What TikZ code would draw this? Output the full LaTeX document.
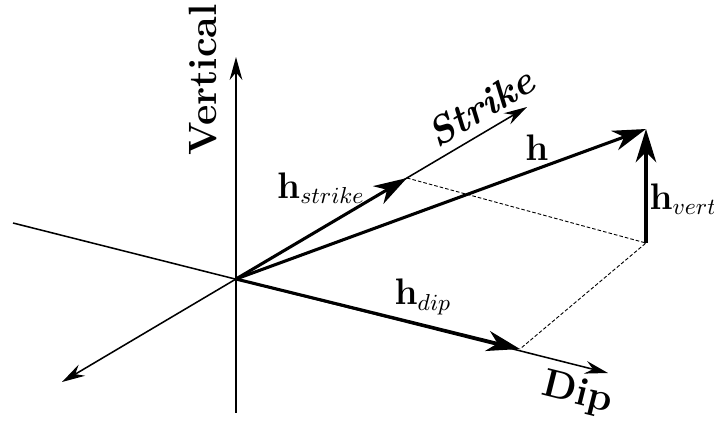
\documentclass[tikz,border=0pt]{standalone}
\usetikzlibrary{arrows.meta}
\DeclareMathSizes{14.4}{14.4}{9}{7}
\begin{document}
\begin{tikzpicture}[scale = 0.137,
		axis/.style = {line width = 0.6pt, -{Stealth[length=9pt, width=5pt, inset=3pt]}},
		vec/.style = {line width = 1.2pt, -{Stealth[length=13pt, width=8pt, inset=4pt]}},
		helper/.style = {line width = 0.35pt, dash pattern = on 1.4pt off 0.8pt},
		lbl/.style = {font = \fontsize{15.4}{18}\selectfont},
		mlbl/.style = {font = \Large}]
			\useasboundingbox (-23.6,-14.2) rectangle (47.8,27.9);
			
			\coordinate (o) at (0,0);
			\coordinate (vtop) at (0,22.2);
			\coordinate (vbot) at (0,-13.4);
			\coordinate (dback) at (-22.3,5.6);
			\coordinate (dtip) at (37.2,-9.4);
			\coordinate (sback) at (-17.4,-10.3);
			\coordinate (stip) at (29.1,17.2);
			
			\coordinate (hs) at (17.1,10.1);
			\coordinate (hd) at (28.4,-7.0);
			\coordinate (hv) at (41.0,3.6);
			\coordinate (ht) at (41.0,15.0);
			
			% axes
			\draw [axis] (vbot) -- (vtop);
			\draw [axis] (dback) -- (dtip);
			\draw [axis] (o) -- (sback);
			\draw [axis] (o) -- (stip);
			
			% components
			\draw [helper] (hs) -- (hv) -- (hd);
			\draw [vec] (o) -- (hs);
			\draw [vec] (o) -- (hd);
			\draw [vec] (hv) -- (ht);
			\draw [vec] (o) -- (ht);
			
			\node[lbl, rotate=90] (vert) at (-3.3,19.9) {\textbf{Vertical}};
			\node[lbl, rotate=31] (strike) at (24.5,17.2) {\textbf{\textit{Strike}}};
			\node[lbl, rotate=-14] (dip) at (34.1,-11.5) {\textbf{Dip}};
			
			\node[mlbl] (lh) at (30.1,13.1) {$\mathbf{h}$};
			\node[mlbl] (lhs) at (8.5,9.1) {$\mathbf{h}_{strike}$};
			\node[mlbl] (lhd) at (18.7,-1.8) {$\mathbf{h}_{dip}$};
			\node[mlbl, anchor=west, inner sep=0pt] (lhv) at (41.3,8.0) {$\mathbf{h}_{vert}$};
		\end{tikzpicture}
\end{document}
